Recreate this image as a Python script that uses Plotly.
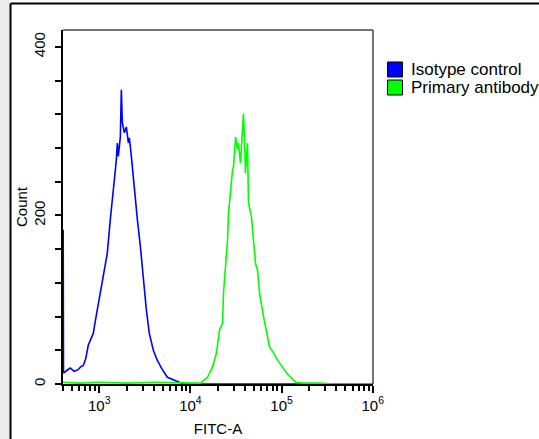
import plotly.graph_objects as go

# ---- data (FITC-A intensity, event count) ----
isotype_fitc = [402, 405, 440, 480, 530, 587, 620, 667, 710, 757, 800, 859, 905, 951, 1026,
                1107, 1160, 1224, 1321, 1390, 1463, 1539, 1578, 1618, 1702, 1746, 1790, 1884,
                1982, 2085, 2138, 2249, 2366, 2489, 2618, 2825, 3048, 3284, 3540, 3917, 4335,
                4920, 5586, 6501, 7379, 8380, 10000, 100000, 1000000]
isotype_count = [183, 13, 16, 19, 15, 17, 20, 22, 30, 46, 52, 60, 75, 88, 108,
                 132, 140, 155, 195, 215, 242, 266, 286, 270, 293, 349, 310, 298,
                 305, 286, 292, 270, 242, 215, 195, 163, 123, 88, 60, 40, 28,
                 17, 8, 5, 2, 0, 0, 0, 0]

primary_fitc = [402, 600, 1000, 2000, 4000, 7000, 11350, 12880, 15380, 17460, 19320, 20850,
                22490, 23070, 24270, 25530, 26190, 27550, 28980, 29720, 31270, 32840, 33680,
                35400, 37240, 38200, 39170, 40170, 42260, 43340, 46760, 49200, 51760, 54450,
                57280, 63390, 68390, 73800, 81660, 90360, 102500, 113500, 125600, 142500,
                174600, 250000, 372400, 1000000]
primary_count = [2, 1, 2, 1, 2, 1, 1, 1, 8, 20, 37, 64,
                 72, 108, 139, 171, 203, 234, 254, 258, 293, 278, 286,
                 262, 302, 321, 290, 250, 286, 215, 198, 171, 143, 135,
                 108, 80, 60, 44, 37, 28, 20, 13, 8, 2,
                 1, 1, 0, 0]

series_names = ["Isotype control", "Primary antibody"]
series_colors = ["#0000ff", "#00ff00"]

y_tickvals = [0, 200, 400]
y_ticktext = ["0", "200", "400"]

x_major = [1e3, 1e4, 1e5, 1e6]
x_major_text = ["10<sup>3</sup>", "10<sup>4</sup>", "10<sup>5</sup>", "10<sup>6</sup>"]

FONT = "Liberation Sans, Arial, sans-serif"

fig = go.Figure()
for xs, ys, name, col in zip([isotype_fitc, primary_fitc], [isotype_count, primary_count],
                             series_names, series_colors):
    fig.add_trace(go.Scatter(x=xs, y=ys, mode="lines", name=name,
                             line=dict(color=col, width=1.6), showlegend=False))

W, H = 539, 439
L, R, T, B = 63, 373, 30, 384


def px(x):
    return (x - L) / (R - L)


def py(y):
    return (B - y) / (B - T)


shapes = [
    dict(type="rect", xref="paper", yref="paper", x0=px(-5), x1=px(9.5),
         y0=py(445), y1=py(-5), fillcolor="#ececec", line=dict(width=0), layer="below"),
    dict(type="line", xref="paper", yref="paper", x0=px(10.5), x1=px(10.5),
         y0=py(445), y1=py(3.5), line=dict(color="black", width=2)),
    dict(type="line", xref="paper", yref="paper", x0=px(10.5), x1=px(545),
         y0=py(3.5), y1=py(3.5), line=dict(color="black", width=2)),
    dict(type="line", xref="paper", yref="paper", x0=0, x1=1, y0=1, y1=1,
         line=dict(color="#444444", width=1.5)),
    dict(type="line", xref="paper", yref="paper", x0=1, x1=1, y0=0, y1=1,
         line=dict(color="#444444", width=1.5)),
]
annotations = []
# legend: coloured squares + labels
for i, (name, col) in enumerate(zip(series_names, series_colors)):
    top = 62 + i * 18
    shapes.append(dict(type="rect", xref="paper", yref="paper",
                       x0=px(387.5), x1=px(402.5), y0=py(top + 15), y1=py(top),
                       fillcolor=col, line=dict(color="black", width=1)))
    annotations.append(dict(text=name, xref="paper", yref="paper", x=px(409), y=py(top + 7.5),
                            xanchor="left", yanchor="middle", showarrow=False,
                            font=dict(family=FONT, size=17, color="black")))

fig.update_layout(
    width=W, height=H,
    margin=dict(l=L, r=W - R, t=T, b=H - B, autoexpand=False),
    paper_bgcolor="white", plot_bgcolor="white",
    font=dict(family=FONT, size=15, color="black"),
    showlegend=False,
    xaxis=dict(type="log", range=[2.602, 6.003], showgrid=False, zeroline=False,
               showline=True, linecolor="black", linewidth=1.5, mirror=False,
               tickmode="array", tickvals=x_major, ticktext=x_major_text,
               ticks="outside", ticklen=7, tickcolor="black", tickwidth=1.5,
               tickfont=dict(size=15),
               minor=dict(ticks="outside", ticklen=5, tickcolor="black", tickwidth=1.5,
                          dtick="D1", showgrid=False),
               title=dict(text="FITC-A", font=dict(size=15), standoff=11)),
    yaxis=dict(range=[0, 420], showgrid=False, zeroline=False,
               showline=True, linecolor="black", linewidth=1.5, mirror=False,
               tickmode="array", tickvals=y_tickvals, ticktext=y_ticktext,
               ticks="outside", ticklen=6, tickcolor="black", tickwidth=1.5,
               tickangle=-90, tickfont=dict(size=15), ticklabelstandoff=4,
               minor=dict(ticks="outside", ticklen=6, tickcolor="black", tickwidth=1.5,
                          tickmode="linear", tick0=0, dtick=40, showgrid=False),
               title=dict(text="Count", font=dict(size=15), standoff=0)),
    shapes=shapes,
    annotations=annotations,
)

fig.write_html("out.html", config={"displayModeBar": False},
               post_script="document.body.style.margin='0';")
